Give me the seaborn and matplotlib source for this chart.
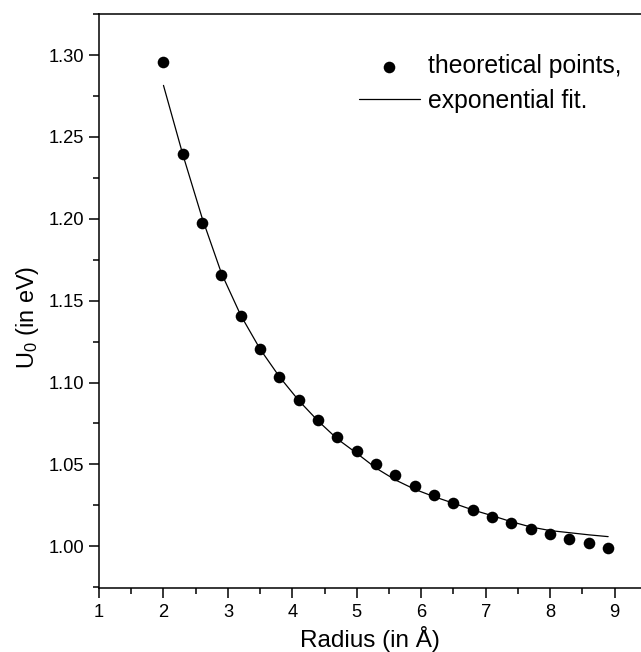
import numpy as np
import pandas as pd
import matplotlib
matplotlib.use("Agg")
import matplotlib.pyplot as plt
from matplotlib.ticker import MultipleLocator
import seaborn as sns

# radius (in Angstrom) of the theoretical points
radius = [2.0, 2.3, 2.6, 2.9, 3.2, 3.5, 3.8, 4.1, 4.4, 4.7, 5.0, 5.3,
          5.6, 5.9, 6.2, 6.5, 6.8, 7.1, 7.4, 7.7, 8.0, 8.3, 8.6, 8.9]
# U0 values (eV)
u0_points = [1.2957, 1.2393, 1.1975, 1.1655, 1.1407, 1.1204, 1.1035, 1.0892,
             1.0774, 1.0670, 1.0583, 1.0503, 1.0434, 1.0371, 1.0316, 1.0265,
             1.0220, 1.0179, 1.0142, 1.0106, 1.0075, 1.0045, 1.0020, 0.9992]
# exponential fit curve at the same radii
u0_fit = [1.2815, 1.2393, 1.2005, 1.1667, 1.1410, 1.1204, 1.1035, 1.0890,
          1.0765, 1.0655, 1.0568, 1.0477, 1.0405, 1.0348, 1.0303, 1.0263,
          1.0222, 1.0187, 1.0150, 1.0118, 1.0096, 1.0083, 1.0070, 1.0059]

x_ticks = [1, 2, 3, 4, 5, 6, 7, 8, 9]
y_ticks = [1.00, 1.05, 1.10, 1.15, 1.20, 1.25, 1.30]

df = pd.DataFrame({"radius": radius, "points": u0_points, "fit": u0_fit})

sns.set_theme(style="ticks")
plt.rcParams["font.family"] = ["Liberation Sans", "DejaVu Sans"]
plt.rcParams["mathtext.default"] = "regular"
for key in ["text.color", "axes.labelcolor", "xtick.color", "ytick.color", "axes.edgecolor"]:
    plt.rcParams[key] = "black"

fig = plt.figure(figsize=(6.41, 6.52), dpi=100)
ax = fig.add_axes([0.1545, 0.0986, 0.8455, 0.8799])

sns.lineplot(data=df, x="radius", y="fit", ax=ax, color="black", linewidth=0.9,
             label="exponential fit.")
sns.scatterplot(data=df, x="radius", y="points", ax=ax, color="black", s=70,
                edgecolor="black", linewidth=0, label="theoretical points,", zorder=3)

ax.set_xlim(1, 9.41)
ax.set_ylim(0.9747, 1.3251)
ax.set_xticks(x_ticks)
ax.set_yticks(y_ticks)
ax.set_yticklabels([f"{v:.2f}" for v in y_ticks])
ax.xaxis.set_minor_locator(MultipleLocator(0.5))
ax.yaxis.set_minor_locator(MultipleLocator(0.025))
ax.tick_params(which="major", direction="out", length=7, width=1.1, labelsize=13.2)
ax.tick_params(which="minor", direction="out", length=4, width=1.1)
ax.tick_params(axis="x", which="major", pad=5)
ax.tick_params(axis="y", which="major", pad=3.5)

for side in ["left", "bottom", "top"]:
    ax.spines[side].set_linewidth(1.1)
ax.spines["right"].set_visible(False)

ax.set_xlabel("Radius (in Å)", fontsize=17.5, labelpad=3)
ax.set_ylabel(r"U$_\mathregular{0}$ (in eV)", fontsize=16.9)
ax.yaxis.set_label_coords(-0.108, 0.471)

handles, labels = ax.get_legend_handles_labels()
ax.legend(handles[::-1], labels[::-1], loc="upper left", bbox_to_anchor=(0.56, 0.917),
          bbox_transform=fig.transFigure, frameon=False, fontsize=17.8,
          handlelength=2.47, handletextpad=0.32, labelspacing=0.44,
          borderpad=0, borderaxespad=0)

fig.savefig("out.png", dpi=100)
